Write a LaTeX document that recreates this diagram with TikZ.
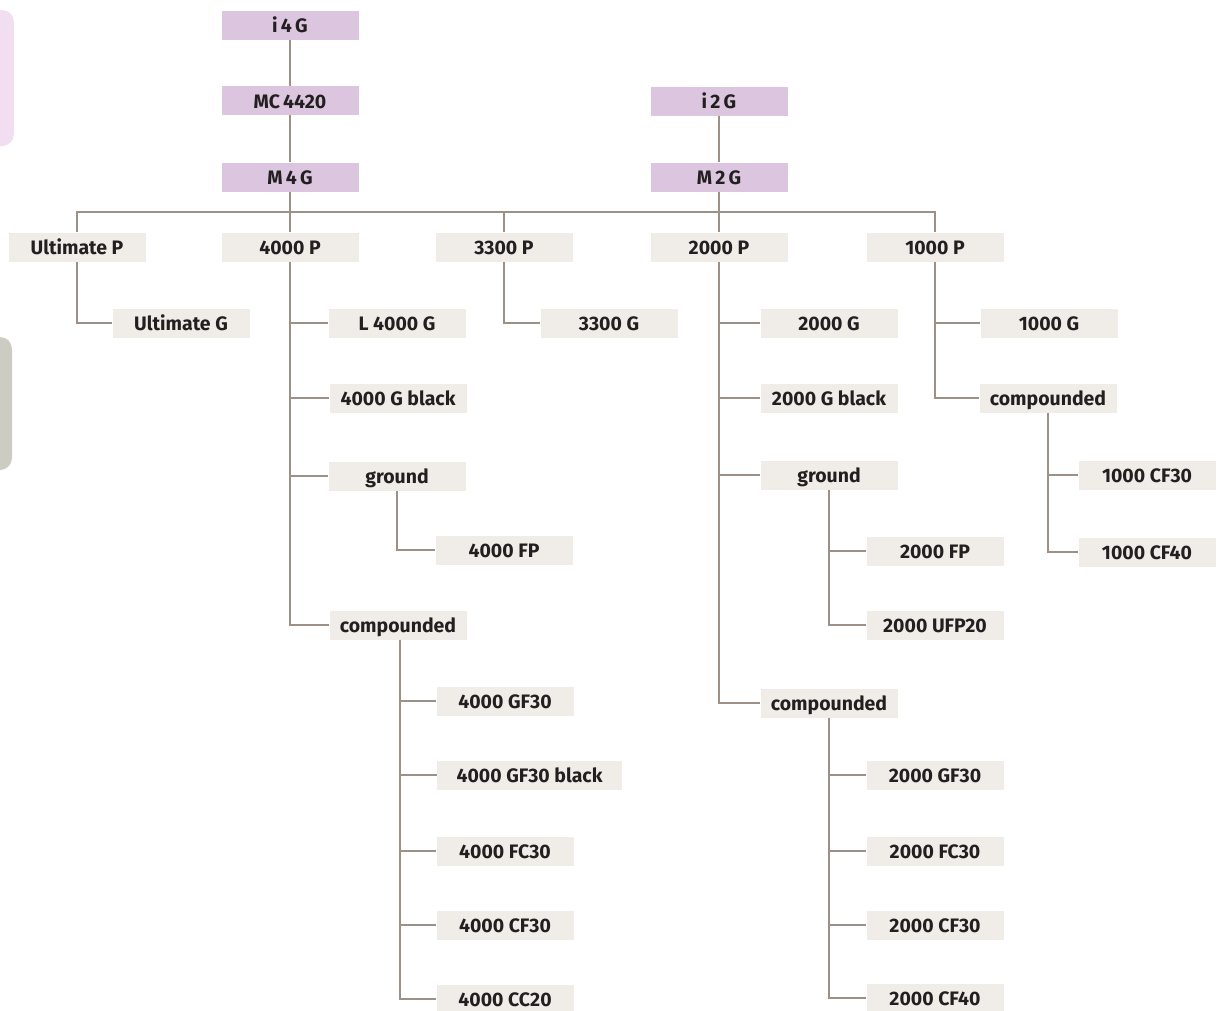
\documentclass[tikz,border=0pt]{standalone}
\usepackage{fontspec}
\setmainfont{Fira Sans}
\definecolor{topfill}{HTML}{DCC6DF}
\definecolor{boxfill}{HTML}{F0EDE9}
\definecolor{linec}{HTML}{9D9087}
\definecolor{pinkdeco}{HTML}{F1DEF0}
\definecolor{graydeco}{HTML}{CDCCC2}
\definecolor{txt}{HTML}{231F20}
\begin{document}
\begin{tikzpicture}[x=0.75pt,y=-0.75pt,
  base/.style={inner sep=0pt, minimum width=102.75pt, minimum height=21.75pt,
    font=\fontsize{14.6}{16}\selectfont\bfseries, text=txt, text height=2.3ex, text depth=0.15ex},
  topbox/.style={base, fill=topfill},
  gbox/.style={base, fill=boxfill},
  widebox/.style={gbox, minimum width=138.75pt},
  conn/.style={draw=linec, line width=1.6pt}]
\useasboundingbox (0,0) rectangle (1227,1010);
% decorations at left edge
\fill[pinkdeco, rounded corners=9pt] (-40,10) rectangle (14,146);
\fill[graydeco, rounded corners=9pt] (-40,337) rectangle (12,470);

% top
\node[topbox] (i4g) at (290,25) {i\,4\,G};
\node[topbox] (mc) at (290,100.5) {MC\,4420};
\node[topbox] (m4g) at (290,177) {M\,4\,G};
\node[topbox] (i2g) at (719,101) {i\,2\,G};
\node[topbox] (m2g) at (719,177) {M\,2\,G};

% P level
\node[gbox] (ultp) at (77,247) {Ultimate P};
\node[gbox] (p4000) at (290,247) {4000 P};
\node[gbox] (p3300) at (504,247) {3300 P};
\node[gbox] (p2000) at (719,247) {2000 P};
\node[gbox] (p1000) at (935,247) {1000 P};

% Ultimate
\node[gbox] (ultg) at (181,323) {Ultimate G};
% 4000
\node[gbox] (l4000g) at (397,323) {L 4000 G};
\node[gbox] (g4000b) at (398,398) {4000 G black};
\node[gbox] (gr4000) at (397,476) {ground};
\node[gbox] (fp4000) at (504,550) {4000 FP};
\node[gbox] (co4000) at (398,625) {compounded};
\node[gbox] (gf4000) at (505,701) {4000 GF30};
\node[widebox] (gfb4000) at (529.5,775) {4000 GF30 black};
\node[gbox] (fc4000) at (505,851) {4000 FC30};
\node[gbox] (cf4000) at (505,925) {4000 CF30};
\node[gbox] (cc4000) at (505,999) {4000 CC20};
% 3300
\node[gbox] (g3300) at (609,323) {3300 G};
% 2000
\node[gbox] (g2000) at (829,323) {2000 G};
\node[gbox] (g2000b) at (829,398) {2000 G black};
\node[gbox] (gr2000) at (829,475) {ground};
\node[gbox] (fp2000) at (935,551) {2000 FP};
\node[gbox] (ufp2000) at (935,625) {2000 UFP20};
\node[gbox] (co2000) at (829,703) {compounded};
\node[gbox] (gf2000) at (935,775) {2000 GF30};
\node[gbox] (fc2000) at (935,851) {2000 FC30};
\node[gbox] (cf2000) at (935,925) {2000 CF30};
\node[gbox] (cf40_2000) at (935,998) {2000 CF40};
% 1000
\node[gbox] (g1000) at (1049,323) {1000 G};
\node[gbox] (co1000) at (1048,398) {compounded};
\node[gbox] (cf30_1000) at (1147,475) {1000 CF30};
\node[gbox] (cf40_1000) at (1147,552) {1000 CF40};

% connectors
\draw[conn] (i4g) -- (mc);
\draw[conn] (mc) -- (m4g);
\draw[conn] (i2g) -- (m2g);
\draw[conn] (m4g.south) -- ++(0,20.5) -| (ultp.north);
\draw[conn] (m4g) -- (p4000);
\draw[conn] (m4g.south) -- ++(0,20.5) -| (p3300.north);
\draw[conn] (m2g.south) -- ++(0,20.5) -| (p3300.north);
\draw[conn] (m2g) -- (p2000);
\draw[conn] (m2g.south) -- ++(0,20.5) -| (p1000.north);

\draw[conn] (ultp.south) |- (ultg.west);
\foreach \c in {l4000g,g4000b,gr4000,co4000} \draw[conn] (p4000.south) |- (\c.west);
\draw[conn] (gr4000.south) |- (fp4000.west);
\foreach \c in {gf4000,gfb4000,fc4000,cf4000,cc4000} \draw[conn] ([xshift=1.5pt]co4000.south) |- (\c.west);
\draw[conn] (p3300.south) |- (g3300.west);
\foreach \c in {g2000,g2000b,gr2000,co2000} \draw[conn] (p2000.south) |- (\c.west);
\foreach \c in {fp2000,ufp2000} \draw[conn] (gr2000.south) |- (\c.west);
\foreach \c in {gf2000,fc2000,cf2000,cf40_2000} \draw[conn] (co2000.south) |- (\c.west);
\foreach \c in {g1000,co1000} \draw[conn] (p1000.south) |- (\c.west);
\foreach \c in {cf30_1000,cf40_1000} \draw[conn] (co1000.south) |- (\c.west);
\end{tikzpicture}
\end{document}
